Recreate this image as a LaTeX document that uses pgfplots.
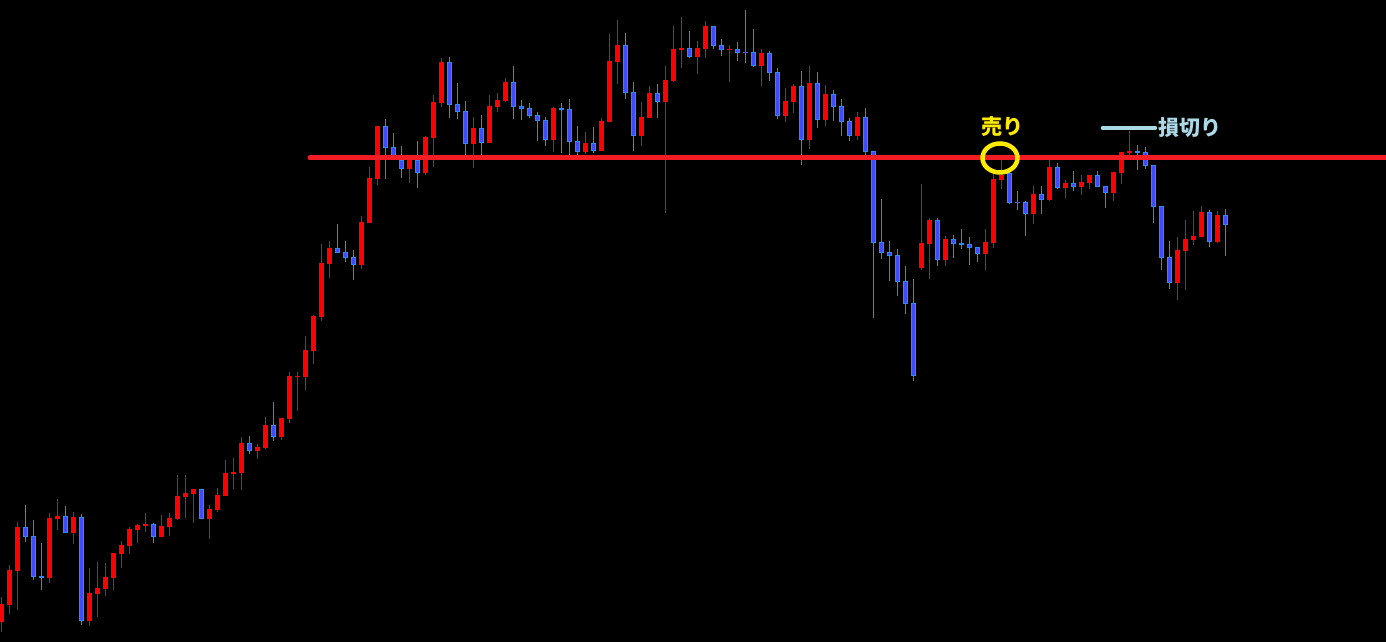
\documentclass[border=0pt]{standalone}
\usepackage{pgfplots}
\pgfplotsset{compat=1.18}
\usepackage{pgfplotstable}
\usepackage{fontspec}
\newfontfamily\cjk{Noto Sans CJK JP}
\definecolor{cred}{RGB}{255,0,0}
\definecolor{cblueedge}{RGB}{40,140,255}
\definecolor{cbluefill}{RGB}{62,76,255}
\definecolor{lvl}{RGB}{242,28,36}
\definecolor{ylw}{RGB}{255,235,0}
\definecolor{lblue}{RGB}{173,216,230}

% rising candles (red): index, open, high, low, close
\pgfplotstableread{
k o h l c
0 20 45 10 38
1 37 77 28 72
2 71 120 32 115
6 64 129 59 124
7 123 143 112 126
9 109 130 98 125
11 21 74 16 49
12 48 80 25 54
13 53 79 46 65
14 64 89 52 89
15 88 101 74 97
16 96 115 88 113
17 112 118 99 117
18 116 129 110 118
20 105 127 105 116
21 115 129 106 124
22 123 167 122 146
23 145 167 124 149
24 148 153 119 153
26 123 137 103 133
27 132 154 130 147
28 146 182 146 169
29 168 184 153 170
30 169 205 152 199
32 191 198 183 195
33 194 225 193 217
35 205 224 202 224
36 223 270 219 266
37 265 270 231 266
38 265 306 252 292
39 291 327 278 326
40 325 398 321 379
41 378 401 364 394
45 377 426 373 420
46 419 475 419 464
47 463 516 457 516
51 473 487 459 485
53 469 506 467 505
54 504 547 475 540
55 539 584 535 580
59 498 525 474 514
61 499 547 499 536
62 535 549 530 542
63 541 564 540 560
69 502 535 490 534
73 490 510 488 499
75 491 524 491 521
76 520 608 520 581
77 580 622 558 597
80 506 540 496 525
81 524 556 524 549
83 540 576 429 562
84 561 616 560 593
85 592 625 574 594
87 585 601 568 594
88 593 621 584 616
91 592 597 560 593
95 576 593 556 589
98 526 554 520 541
99 540 558 529 556
101 502 576 493 559
103 522 557 516 548
107 506 530 502 525
115 374 458 372 399
116 398 424 363 422
118 382 406 376 403
123 388 413 372 400
124 399 468 394 463
125 462 487 453 467
129 428 456 418 448
131 442 487 441 475
133 454 462 444 459
135 455 467 447 460
136 459 467 453 467
139 449 470 441 470
140 469 490 458 490
141 489 511 485 491
147 359 405 342 392
148 391 422 352 403
149 402 431 397 406
150 405 436 405 430
152 400 431 399 427
}\upc

% falling candles (blue): index, open, high, low, close
\pgfplotstableread{
k o h l c
3 115 137 100 105
4 106 122 62 65
5 66 99 52 64
8 126 136 109 109
10 125 128 17 21
19 118 119 99 105
25 153 153 123 123
31 199 206 188 191
34 217 240 201 205
42 394 418 389 389
43 390 401 380 384
44 385 392 362 377
48 516 523 463 494
49 495 509 482 485
50 482 496 464 473
52 482 501 454 469
56 580 585 524 537
57 538 559 523 530
58 531 541 487 498
60 514 527 485 499
64 560 576 523 535
65 536 542 522 533
66 534 539 524 526
67 527 530 501 521
68 522 525 496 502
70 534 539 489 532
71 533 543 486 500
72 501 516 486 490
74 499 515 489 491
78 597 609 543 549
79 550 560 491 506
82 549 558 524 540
86 594 611 584 585
89 616 616 593 596
90 597 603 586 592
92 593 600 581 589
93 590 632 579 589
94 590 613 575 576
96 589 591 561 569
97 570 574 523 526
100 556 571 477 502
102 559 570 514 522
104 548 552 521 535
105 536 543 506 520
106 521 524 501 506
108 525 534 486 490
109 491 491 324 399
110 400 443 383 389
111 390 401 361 386
112 387 393 346 360
113 361 376 328 338
114 339 363 261 266
117 422 424 376 382
119 403 407 384 398
120 399 413 393 397
121 398 405 377 394
122 395 395 380 388
126 469 472 438 439
127 440 451 432 439
128 440 441 406 428
130 448 456 428 442
132 475 479 453 454
134 459 471 451 455
137 467 471 455 455
138 456 456 434 449
142 491 497 472 489
143 490 495 473 476
144 477 477 419 435
145 436 436 372 384
146 385 401 353 359
151 430 432 395 400
153 427 433 386 417
}\dnc

\begin{document}
\begin{tikzpicture}
\begin{axis}[
  width=1386pt, height=642pt, scale only axis,
  xmin=-0.1667, xmax=173.083, ymin=0, ymax=642,
  axis background/.style={fill=black},
  axis line style={draw=none},
  ticks=none,
  clip=true,
]
% wicks
\addplot[draw=none, mark=none, forget plot,
  error bars/.cd, y dir=plus, y explicit, error mark=none,
  error bar style={draw=cred, line width=1pt}]
  table[x=k, y=l, y error plus expr=\thisrow{h}-\thisrow{l}] {\upc};
\addplot[draw=none, mark=none, forget plot,
  error bars/.cd, y dir=plus, y explicit, error mark=none,
  error bar style={draw=cblueedge, line width=1pt}]
  table[x=k, y=l, y error plus expr=\thisrow{h}-\thisrow{l}] {\dnc};
% bodies
\addplot[draw=none, mark=none, forget plot,
  error bars/.cd, y dir=plus, y explicit, error mark=none,
  error bar style={draw=cred, line width=5pt}]
  table[x=k, y=o, y error plus expr=\thisrow{c}-\thisrow{o}] {\upc};
\addplot[draw=none, mark=none, forget plot,
  error bars/.cd, y dir=plus, y explicit, error mark=none,
  error bar style={draw=cblueedge, line width=5pt}]
  table[x=k, y=c, y error plus expr=\thisrow{o}-\thisrow{c}] {\dnc};
\addplot[draw=none, mark=none, forget plot,
  error bars/.cd, y dir=plus, y explicit, error mark=none,
  error bar style={draw=cbluefill, line width=3pt}]
  table[x=k, y expr=\thisrow{c}+1, y error plus expr=\thisrow{o}-\thisrow{c}-2] {\dnc};
% horizontal level
\addplot[draw=lvl, line width=5pt, line cap=round, forget plot]
  coordinates {(38.58,484) (174,484)};
% stop-loss marker
\addplot[draw=lblue, line width=4.5pt, line cap=round, forget plot]
  coordinates {(137.7,514) (144.2,514)};
\draw[ylw, line width=4.5pt] (axis cs:124.83,484) ellipse [x radius=17.5pt, y radius=14.5pt];
\node[text=ylw, font=\cjk\bfseries\fontsize{21}{21}\selectfont, inner sep=0pt] at (axis cs:125.2,515.5) {売り};
\node[text=lblue, font=\cjk\bfseries\fontsize{21}{21}\selectfont, inner sep=0pt] at (axis cs:148.6,514) {損切り};
\end{axis}
\end{tikzpicture}
\end{document}
